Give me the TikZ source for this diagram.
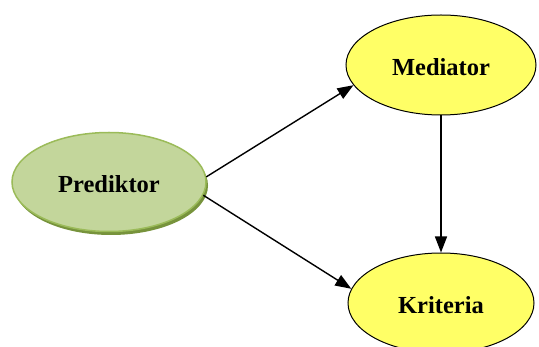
\documentclass[tikz,border=0pt]{standalone}
\usepackage{fontspec}
\setmainfont{Liberation Serif}
\usetikzlibrary{shapes.geometric,arrows.meta,shadows}
\definecolor{grfill}{HTML}{C3D69B}
\definecolor{grline}{HTML}{9BBB59}
\definecolor{grshadow}{HTML}{77933C}
\definecolor{yfill}{HTML}{FFFF66}
\tikzset{
  lbl/.style={font=\bfseries\fontsize{24.5}{27}\selectfont, text height=24pt, text depth=2pt},
  greenell/.style={ellipse, lbl, minimum width=194pt, minimum height=99pt, inner sep=0pt,
    fill=grfill, draw=grline, line width=1.5pt,
    drop shadow={shadow xshift=2pt, shadow yshift=-3.5pt, fill=grshadow, opacity=1}},
  yellowell/.style={ellipse, lbl, minimum width=190pt, minimum height=100pt, inner sep=0pt,
    fill=yfill, draw=black, line width=1pt},
  conn/.style={line width=1.4pt, -{Triangle[length=16pt,width=12pt]}}
}
\begin{document}
\begin{tikzpicture}[x=1pt,y=-1pt]
\useasboundingbox (0,0) rectangle (539,347);
\node[greenell] (p) at (109,182) {Prediktor};
\node[yellowell] (m) at (441,65) {Mediator};
\node[yellowell, minimum width=186pt] (k) at (441,303) {Kriteria};
\draw[conn] (p.3) -- (m.193);
\draw[conn] (p.-8) -- (k.171);
\draw[conn] (m.south) -- (k.north);
\end{tikzpicture}
\end{document}
